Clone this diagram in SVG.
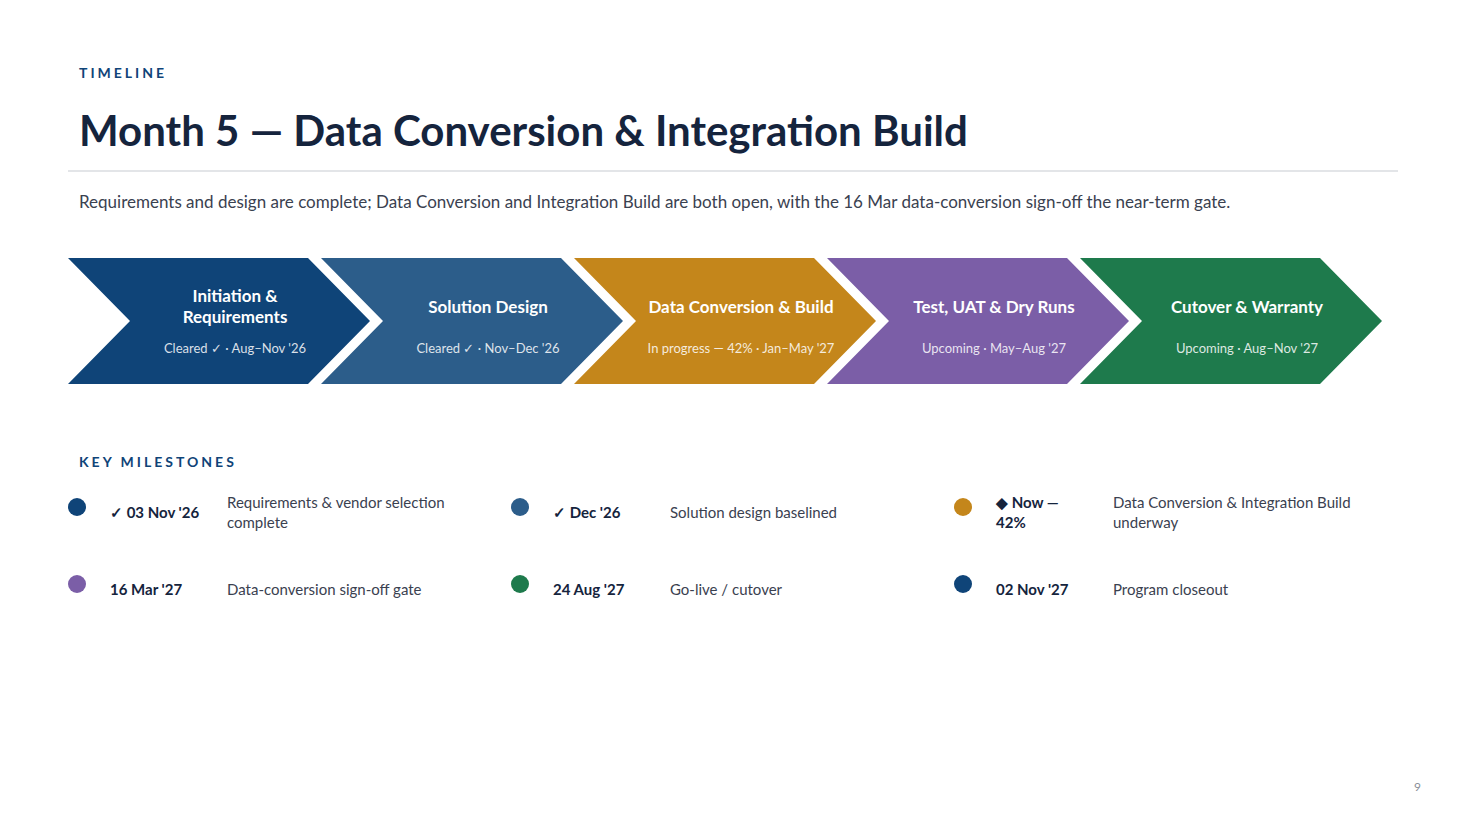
<svg xmlns="http://www.w3.org/2000/svg" width="1466" height="825" viewBox="0 0 1466 825">
<style>
text{font-family:Lato,"Noto Sans","Liberation Sans",sans-serif}
.eyebrow{font-size:14px;font-weight:700;fill:#0f4478;letter-spacing:3px}
.title{font-size:42px;font-weight:700;fill:#15243d}
.sub{font-size:17px;fill:#3a4150}
.ct{font-size:17px;font-weight:700;fill:#fff;text-anchor:middle}
.cs{font-size:13px;fill:#fff;fill-opacity:.85;text-anchor:middle}
.md{font-size:15px;font-weight:700;fill:#15243d}
.mt{font-size:15px;fill:#3a4150}
</style>
<rect width="1466" height="825" fill="#fff"/>
<text class="eyebrow" x="79" y="78">TIMELINE</text>
<text class="title" x="79" y="146">Month 5 — Data Conversion &amp; Integration Build</text>
<line x1="68" y1="171" x2="1398" y2="171" stroke="#e3e5e8" stroke-width="2"/>
<text class="sub" x="79" y="208">Requirements and design are complete; Data Conversion and Integration Build are both open, with the 16 Mar data-conversion sign-off the near-term gate.</text>
<g id="phase1"><polygon points="68,258 308,258 370,321 308,384 68,384 130,321" fill="#0f4478"/>
<text class="ct" x="235" y="302">Initiation &amp;</text><text class="ct" x="235" y="323">Requirements</text>
<text class="cs" x="235" y="353">Cleared ✓  ·  Aug–Nov '26</text></g>
<g id="phase2"><polygon points="321,258 561,258 623,321 561,384 321,384 383,321" fill="#2c5d8a"/>
<text class="ct" x="488" y="313">Solution Design</text>
<text class="cs" x="488" y="353">Cleared ✓  ·  Nov–Dec '26</text></g>
<g id="phase3"><polygon points="574,258 814,258 876,321 814,384 574,384 636,321" fill="#c4861b"/>
<text class="ct" x="741" y="313">Data Conversion &amp; Build</text>
<text class="cs" x="741" y="353">In progress — 42%  ·  Jan–May '27</text></g>
<g id="phase4"><polygon points="827,258 1067,258 1129,321 1067,384 827,384 889,321" fill="#7b5ea7"/>
<text class="ct" x="994" y="313">Test, UAT &amp; Dry Runs</text>
<text class="cs" x="994" y="353">Upcoming  ·  May–Aug '27</text></g>
<g id="phase5"><polygon points="1080,258 1320,258 1382,321 1320,384 1080,384 1142,321" fill="#1e7a4c"/>
<text class="ct" x="1247" y="313">Cutover &amp; Warranty</text>
<text class="cs" x="1247" y="353">Upcoming  ·  Aug–Nov '27</text></g>
<g id="connectors"/>
<text class="eyebrow" x="79" y="467">KEY MILESTONES</text>
<g id="m1"><circle cx="77" cy="507" r="9" fill="#0f4478"/><text class="md" x="110" y="518">✓ 03 Nov '26</text><text class="mt" x="227" y="508">Requirements &amp; vendor selection</text><text class="mt" x="227" y="528">complete</text></g>
<g id="m2"><circle cx="520" cy="507" r="9" fill="#2c5d8a"/><text class="md" x="553" y="518">✓ Dec '26</text><text class="mt" x="670" y="518">Solution design baselined</text></g>
<g id="m3"><circle cx="963" cy="507" r="9" fill="#c4861b"/><text class="md" x="996" y="508">◆ Now —</text><text class="md" x="996" y="528">42%</text><text class="mt" x="1113" y="508">Data Conversion &amp; Integration Build</text><text class="mt" x="1113" y="528">underway</text></g>
<g id="m4"><circle cx="77" cy="584" r="9" fill="#7b5ea7"/><text class="md" x="110" y="595">16 Mar '27</text><text class="mt" x="227" y="595">Data-conversion sign-off gate</text></g>
<g id="m5"><circle cx="520" cy="584" r="9" fill="#1e7a4c"/><text class="md" x="553" y="595">24 Aug '27</text><text class="mt" x="670" y="595">Go-live / cutover</text></g>
<g id="m6"><circle cx="963" cy="584" r="9" fill="#0f4478"/><text class="md" x="996" y="595">02 Nov '27</text><text class="mt" x="1113" y="595">Program closeout</text></g>
<text x="1421" y="791" font-size="12" fill="#8a8f99" text-anchor="end">9</text>
</svg>
